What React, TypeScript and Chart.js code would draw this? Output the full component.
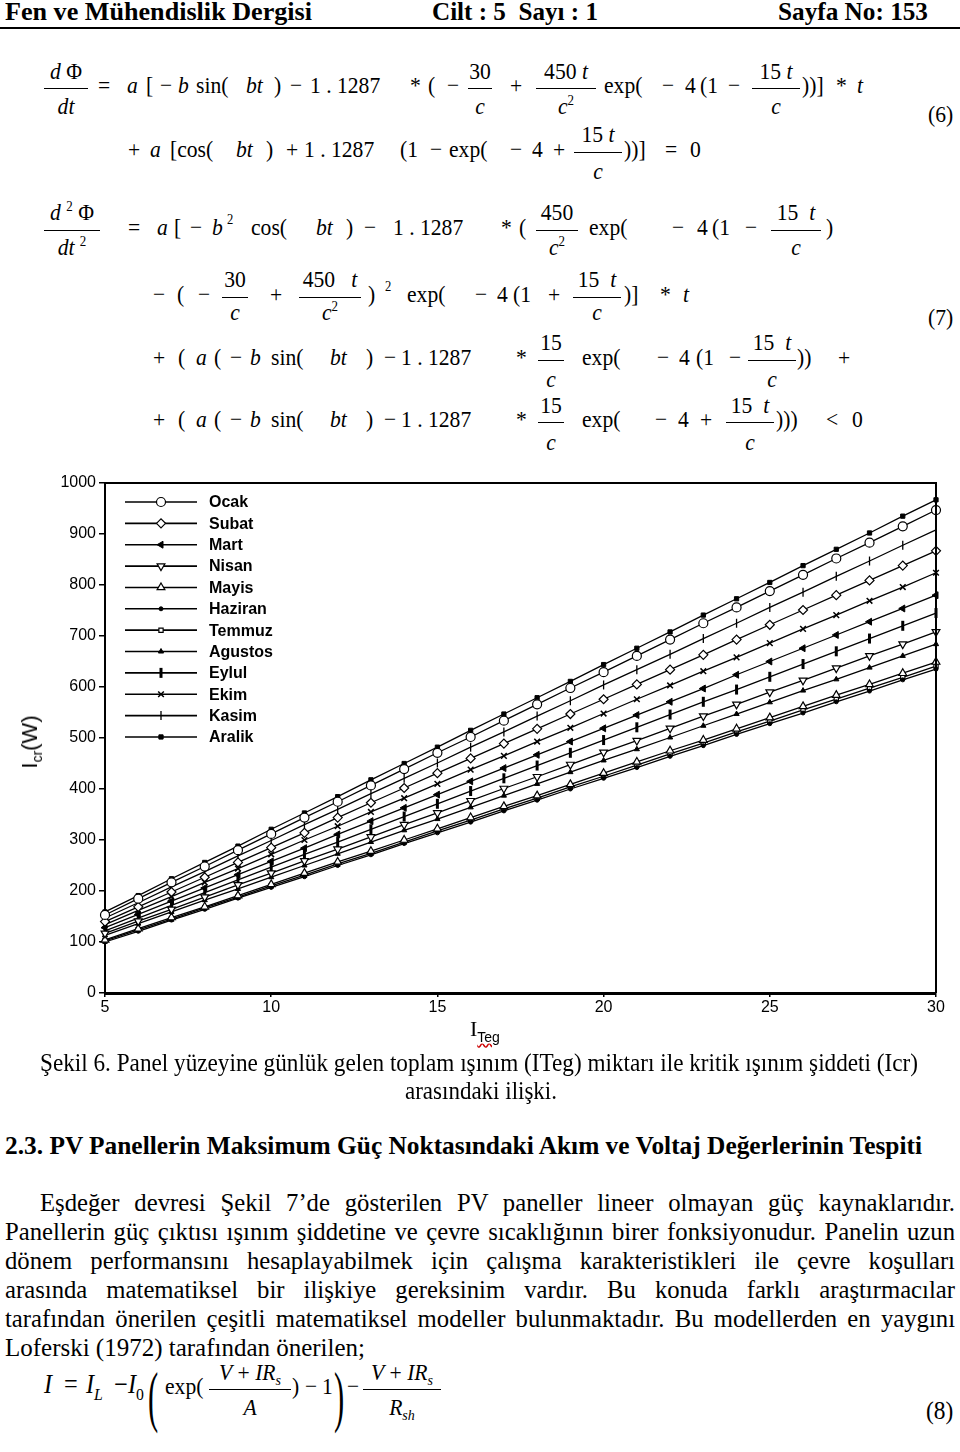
import React, { useEffect, useLayoutEffect, useRef } from 'react';
import { Chart, registerables } from 'chart.js';
import { drawPoint } from 'chart.js/helpers';

Chart.register(...registerables);

// ---------------- DATA ----------------
const ITEG = [5, 6, 7, 8, 9, 10, 11, 12, 13, 14, 15, 16, 17, 18, 19, 20, 21, 22, 23, 24, 25, 26, 27, 28, 29, 30];
const MONTHS = ['Ocak', 'Subat', 'Mart', 'Nisan', 'Mayis', 'Haziran', 'Temmuz', 'Agustos', 'Eylul', 'Ekim', 'Kasim', 'Aralik'];

const OCAK = [153, 185, 217, 248, 280, 312, 344, 375, 407, 439, 471, 502, 534, 566, 598, 629, 661, 693, 725, 756, 788, 820, 852, 883, 915, 947];
const SUBAT = [140, 169, 198, 227, 256, 285, 314, 344, 373, 402, 431, 460, 489, 518, 547, 576, 605, 634, 663, 693, 722, 751, 780, 809, 838, 867];
const MART = [128, 154, 180, 206, 232, 258, 284, 311, 337, 363, 389, 415, 441, 467, 493, 519, 545, 571, 597, 624, 650, 676, 702, 728, 754, 780];
const NISAN = [117, 141, 164, 188, 212, 235, 259, 282, 306, 330, 353, 377, 401, 424, 448, 472, 495, 519, 543, 566, 590, 613, 637, 661, 684, 708];
const MAYIS = [104, 126, 148, 169, 191, 213, 235, 257, 278, 300, 322, 344, 366, 387, 409, 431, 453, 475, 496, 518, 540, 562, 584, 605, 627, 649];
const HAZIRAN = [100, 121, 143, 164, 186, 207, 228, 250, 271, 293, 314, 335, 357, 378, 400, 421, 442, 464, 485, 507, 528, 549, 571, 592, 614, 635];
const TEMMUZ = [102, 124, 145, 167, 188, 210, 231, 253, 274, 296, 318, 339, 361, 382, 404, 425, 447, 469, 490, 512, 533, 555, 576, 598, 619, 641];
const AGUSTOS = [113, 136, 159, 182, 204, 227, 250, 273, 296, 319, 341, 364, 387, 410, 433, 456, 478, 501, 524, 547, 570, 593, 615, 638, 661, 684];
const EYLUL = [122, 147, 172, 197, 222, 247, 272, 296, 321, 346, 371, 396, 421, 446, 471, 496, 521, 546, 571, 595, 620, 645, 670, 695, 720, 745];
const EKIM = [134, 162, 189, 217, 244, 272, 300, 327, 355, 382, 410, 438, 465, 493, 520, 548, 576, 603, 631, 658, 686, 714, 741, 769, 796, 824];
const KASIM = [147, 177, 208, 238, 269, 299, 330, 360, 391, 421, 451, 482, 512, 543, 573, 604, 634, 664, 695, 725, 756, 786, 817, 847, 878, 908];
const ARALIK = [159, 191, 224, 256, 288, 321, 353, 385, 418, 450, 482, 515, 547, 579, 611, 644, 676, 708, 741, 773, 805, 838, 870, 902, 935, 967];

const SERIES = [OCAK, SUBAT, MART, NISAN, MAYIS, HAZIRAN, TEMMUZ, AGUSTOS, EYLUL, EKIM, KASIM, ARALIK];

const Y_MIN = 0;
const Y_MAX = 1000;
const Y_STEP = 100;
const X_MIN = 5;
const X_MAX = 30;
const X_STEP = 5;

// marker styles (presentation only)
const MARKERS: any[] = [
  { style: 'circle', rot: 0, r: 4.5, fill: '#fff', bw: 1.2 },
  { style: 'rectRot', rot: 0, r: 4.5, fill: '#fff', bw: 1.2 },
  { style: 'triangle', rot: -90, r: 4, fill: '#000', bw: 1 },
  { style: 'triangle', rot: 180, r: 4.5, fill: '#fff', bw: 1.2 },
  { style: 'triangle', rot: 0, r: 4.5, fill: '#fff', bw: 1.2 },
  { style: 'circle', rot: 0, r: 2, fill: '#000', bw: 1 },
  { style: 'rect', rot: 0, r: 3, fill: '#fff', bw: 1.2 },
  { style: 'triangle', rot: 0, r: 3, fill: '#000', bw: 1 },
  { style: 'line', rot: 90, r: 5, fill: '#000', bw: 3 },
  { style: 'crossRot', rot: 0, r: 4, fill: '#000', bw: 1.5 },
  { style: 'line', rot: 90, r: 4.5, fill: '#000', bw: 1.3 },
  { style: 'rect', rot: 0, r: 3, fill: '#000', bw: 1 },
];

const SERIF = '"Liberation Serif", "Times New Roman", serif';
const SANS = '"Liberation Sans", Arial, sans-serif';

// ---------------- text helpers ----------------
function Line(props: { x: number; b: number; w?: number; size?: number; bold?: boolean; justify?: boolean; sx?: number; children: any }) {
  const { x, b, w, size = 26, bold = false, justify = false, sx = 0.95, children } = props;
  const ref = useRef<HTMLSpanElement>(null);
  useLayoutEffect(() => {
    const el = ref.current;
    if (!el || !w) return;
    el.style.transform = 'none';
    el.style.wordSpacing = '0px';
    const nat = el.getBoundingClientRect().width;
    const spaces = ((el.textContent || '').match(/ /g) || []).length;
    if (justify && nat * sx < w && spaces > 0) {
      el.style.wordSpacing = `${(w / sx - nat) / spaces}px`;
      el.style.transform = `scaleX(${sx})`;
    } else if (nat > 0) {
      el.style.transform = `scaleX(${w / nat})`;
    }
  }, [w, justify, sx]);
  return (
    <span
      ref={ref}
      style={{
        position: 'absolute',
        left: x,
        top: b - 0.8375 * size,
        fontSize: size,
        lineHeight: `${size}px`,
        fontFamily: SERIF,
        fontWeight: bold ? 'bold' : 'normal',
        whiteSpace: 'pre',
        transformOrigin: '0 0',
        color: '#000',
      }}
    >
      {children}
    </span>
  );
}

const SZ = 24;
const SX = 0.9;
function T(props: { x: number; b: number; s: any; i?: boolean; sz?: number; sx?: number }) {
  const { x, b, s, i = false, sz = SZ, sx = SX } = props;
  return (
    <span
      style={{
        position: 'absolute',
        left: x,
        top: b - 0.8375 * sz,
        fontSize: sz,
        lineHeight: `${sz}px`,
        fontFamily: SERIF,
        fontStyle: i ? 'italic' : 'normal',
        whiteSpace: 'pre',
        color: '#000',
        transform: `scaleX(${sx})`,
        transformOrigin: '0 0',
      }}
    >
      {s}
    </span>
  );
}

const Sup = ({ c }: { c: any }) => (
  <span style={{ fontSize: '0.6em', position: 'relative', top: '-0.6em', fontStyle: 'normal' }}>{c}</span>
);
const Sub = ({ c, i = false }: { c: any; i?: boolean }) => (
  <span style={{ fontSize: '0.65em', position: 'relative', top: '0.35em', fontStyle: i ? 'italic' : 'normal' }}>{c}</span>
);
const I = ({ c }: { c: any }) => <span style={{ fontStyle: 'italic' }}>{c}</span>;

function Frac(props: { cx: number; w: number; bar: number; nb: number; db: number; num: any; den: any; sz?: number }) {
  const { cx, w, bar, nb, db, num, den, sz = SZ } = props;
  const box = (b: number, c: any) => (
    <div
      style={{
        position: 'absolute',
        left: cx - 100,
        width: 200,
        textAlign: 'center',
        top: b - 0.8375 * sz,
        fontSize: sz,
        lineHeight: `${sz}px`,
        fontFamily: SERIF,
        whiteSpace: 'pre',
        color: '#000',
        transform: `scaleX(${SX})`,
        transformOrigin: '50% 0',
      }}
    >
      {c}
    </div>
  );
  return (
    <>
      {box(nb, num)}
      <div style={{ position: 'absolute', left: cx - w / 2, top: bar, width: w, height: 0, borderTop: '1.3px solid #000' }} />
      {box(db, den)}
    </>
  );
}

const F15t = <>15 <I c="t" /></>;
const Fc = <I c="c" />;
const Fc2 = <><I c="c" /><Sup c="2" /></>;

// ---------------- chart ----------------
const frameAndLegend = {
  id: 'frameAndLegend',
  afterDatasetsDraw(chart: any) {
    const ctx = chart.ctx as CanvasRenderingContext2D;
    const a = chart.chartArea;
    ctx.save();
    ctx.strokeStyle = '#000';
    ctx.lineWidth = 2;
    ctx.beginPath();
    ctx.moveTo(a.left, a.top);
    ctx.lineTo(a.right, a.top);
    ctx.lineTo(a.right, a.bottom);
    ctx.stroke();
    chart.data.datasets.forEach((ds: any, i: number) => {
      const y = a.top + 19 + i * 21.36;
      ctx.strokeStyle = '#000';
      ctx.lineWidth = 1.6;
      ctx.beginPath();
      ctx.moveTo(a.left + 20, y);
      ctx.lineTo(a.left + 92, y);
      ctx.stroke();
      ctx.fillStyle = ds.pointBackgroundColor;
      ctx.lineWidth = ds.pointBorderWidth;
      drawPoint(
        ctx,
        { pointStyle: ds.pointStyle, rotation: ds.pointRotation, radius: ds.pointRadius, borderWidth: ds.pointBorderWidth } as any,
        a.left + 56,
        y
      );
      ctx.fillStyle = '#000';
      ctx.font = `bold 16px ${SANS}`;
      ctx.textBaseline = 'middle';
      ctx.textAlign = 'left';
      ctx.fillText(ds.label, a.left + 104, y + 1);
    });
    ctx.restore();
  },
};

function ChartBox() {
  const ref = useRef<HTMLCanvasElement>(null);
  useEffect(() => {
    if (!ref.current) return;
    const datasets = MONTHS.map((m, k) => ({
      label: m,
      data: ITEG.map((x, j) => ({ x, y: SERIES[k][j] })),
      borderColor: '#000',
      borderWidth: 1.3,
      pointStyle: MARKERS[k].style,
      pointRotation: MARKERS[k].rot,
      pointRadius: MARKERS[k].r,
      pointBackgroundColor: MARKERS[k].fill,
      pointBorderColor: '#000',
      pointBorderWidth: MARKERS[k].bw,
      clip: false as any,
      tension: 0,
    }));
    const chart = new Chart(ref.current, {
      type: 'line',
      data: { datasets } as any,
      options: {
        animation: false,
        responsive: false,
        layout: { padding: { top: 13, right: 24, left: 0, bottom: 0 } },
        plugins: { legend: { display: false }, tooltip: { enabled: false } },
        scales: {
          x: {
            type: 'linear',
            min: X_MIN,
            max: X_MAX,
            afterFit: (s: any) => { s.height = 57; },
            ticks: { stepSize: X_STEP, color: '#000', font: { family: SANS, size: 16 }, padding: 1, maxRotation: 0, callback: (v: any) => String(v) },
            grid: { display: true, drawOnChartArea: false, drawTicks: true, tickLength: 4, color: '#000', lineWidth: 1.5 },
            border: { display: true, color: '#000', width: 3 },
          },
          y: {
            type: 'linear',
            min: Y_MIN,
            max: Y_MAX,
            afterFit: (s: any) => { s.width = 105; },
            ticks: { stepSize: Y_STEP, color: '#000', font: { family: SANS, size: 16 }, padding: 3, callback: (v: any) => String(v) },
            grid: { display: true, drawOnChartArea: false, drawTicks: true, tickLength: 6, color: '#000', lineWidth: 1.5 },
            border: { display: true, color: '#000', width: 2 },
          },
        },
      } as any,
      plugins: [frameAndLegend],
    });
    return () => chart.destroy();
  }, []);
  return (
    <div style={{ position: 'absolute', left: 0, top: 470, width: 960, height: 580 }}>
      <canvas ref={ref} width={960} height={580} style={{ display: 'block' }} />
    </div>
  );
}

// ---------------- page ----------------
export default function App() {
  return (
    <div style={{ position: 'absolute', left: 0, top: 0, width: 960, height: 1452, background: '#fff', overflow: 'hidden' }}>
      {/* header */}
      <Line x={5} b={21} w={307} size={26} bold>Fen ve Mühendislik Dergisi</Line>
      <Line x={432} b={21} w={166} size={26} bold>{'Cilt : 5  Sayı : 1'}</Line>
      <Line x={778} b={21} w={150} size={26} bold>Sayfa No: 153</Line>
      <div style={{ position: 'absolute', left: 0, top: 27, width: 960, height: 2, background: '#000' }} />

      {/* Equation 6 */}
      <Frac cx={66} w={44} bar={88} nb={79} db={114} num={<><I c="d" /> Φ</>} den={<I c="dt" />} />
      <T x={98} b={93} s="=" />
      <T x={127} b={93} s="a" i />
      <T x={146} b={93} s="[" />
      <T x={160} b={93} s="−" />
      <T x={178} b={93} s="b" i />
      <T x={196} b={93} s="sin(" />
      <T x={246} b={93} s="bt" i />
      <T x={274} b={93} s=")" />
      <T x={290} b={93} s="−" />
      <T x={310} b={93} s="1 . 1287" />
      <T x={410} b={93} s="*" />
      <T x={428} b={93} s="(" />
      <T x={447} b={93} s="−" />
      <Frac cx={480} w={24} bar={88} nb={79} db={114} num="30" den={Fc} />
      <T x={510} b={93} s="+" />
      <Frac cx={566} w={60} bar={88} nb={79} db={114} num={<>450 <I c="t" /></>} den={Fc2} />
      <T x={604} b={93} s="exp(" />
      <T x={662} b={93} s="−" />
      <T x={685} b={93} s="4" />
      <T x={700} b={93} s="(1" />
      <T x={728} b={93} s="−" />
      <Frac cx={776} w={48} bar={88} nb={79} db={114} num={F15t} den={Fc} />
      <T x={802} b={93} s="))]" />
      <T x={836} b={93} s="*" />
      <T x={857} b={93} s="t" i />

      <T x={128} b={157} s="+" />
      <T x={150} b={157} s="a" i />
      <T x={170} b={157} s="[cos(" />
      <T x={236} b={157} s="bt" i />
      <T x={266} b={157} s=")" />
      <T x={286} b={157} s="+" />
      <T x={304} b={157} s="1 . 1287" />
      <T x={400} b={157} s="(1" />
      <T x={430} b={157} s="−" />
      <T x={449} b={157} s="exp(" />
      <T x={510} b={157} s="−" />
      <T x={532} b={157} s="4" />
      <T x={553} b={157} s="+" />
      <Frac cx={598} w={48} bar={152} nb={142} db={179} num={F15t} den={Fc} />
      <T x={624} b={157} s="))]" />
      <T x={665} b={157} s="=" />
      <T x={690} b={157} s="0" />
      <T x={928} b={122} s="(6)" />

      {/* Equation 7 */}
      <Frac cx={72} w={56} bar={230} nb={220} db={255} num={<><I c="d" /> <Sup c="2" /> Φ</>} den={<><I c="dt" /> <Sup c="2" /></>} />
      <T x={128} b={235} s="=" />
      <T x={157} b={235} s="a" i />
      <T x={174} b={235} s="[" />
      <T x={190} b={235} s="−" />
      <T x={212} b={235} s="b" i />
      <T x={227} b={225} s="2" sz={14} />
      <T x={251} b={235} s="cos(" />
      <T x={316} b={235} s="bt" i />
      <T x={346} b={235} s=")" />
      <T x={364} b={235} s="−" />
      <T x={393} b={235} s="1 . 1287" />
      <T x={501} b={235} s="*" />
      <T x={519} b={235} s="(" />
      <Frac cx={557} w={42} bar={230} nb={220} db={255} num="450" den={Fc2} />
      <T x={589} b={235} s="exp(" />
      <T x={672} b={235} s="−" />
      <T x={697} b={235} s="4" />
      <T x={712} b={235} s="(1" />
      <T x={745} b={235} s="−" />
      <Frac cx={796} w={50} bar={230} nb={220} db={255} num={<>15  <I c="t" /></>} den={Fc} />
      <T x={826} b={235} s=")" />

      <T x={153} b={302} s="−" />
      <T x={177} b={302} s="(" />
      <T x={198} b={302} s="−" />
      <Frac cx={235} w={26} bar={297} nb={287} db={320} num="30" den={Fc} />
      <T x={270} b={302} s="+" />
      <Frac cx={330} w={62} bar={297} nb={287} db={320} num={<>450   <I c="t" /></>} den={Fc2} />
      <T x={368} b={302} s=")" />
      <T x={385} b={292} s="2" sz={14} />
      <T x={407} b={302} s="exp(" />
      <T x={475} b={302} s="−" />
      <T x={497} b={302} s="4" />
      <T x={513} b={302} s="(1" />
      <T x={548} b={302} s="+" />
      <Frac cx={597} w={48} bar={297} nb={287} db={320} num={<>15  <I c="t" /></>} den={Fc} />
      <T x={624} b={302} s=")]" />
      <T x={660} b={302} s="*" />
      <T x={683} b={302} s="t" i />
      <T x={928} b={325} s="(7)" />

      <T x={153} b={365} s="+" />
      <T x={178} b={365} s="(" />
      <T x={196} b={365} s="a" i />
      <T x={214} b={365} s="(" />
      <T x={230} b={365} s="−" />
      <T x={250} b={365} s="b" i />
      <T x={271} b={365} s="sin(" />
      <T x={330} b={365} s="bt" i />
      <T x={366} b={365} s=")" />
      <T x={384} b={365} s="−" />
      <T x={401} b={365} s="1 . 1287" />
      <T x={516} b={365} s="*" />
      <Frac cx={551} w={26} bar={360} nb={350} db={387} num="15" den={Fc} />
      <T x={582} b={365} s="exp(" />
      <T x={657} b={365} s="−" />
      <T x={679} b={365} s="4" />
      <T x={696} b={365} s="(1" />
      <T x={729} b={365} s="−" />
      <Frac cx={772} w={48} bar={360} nb={350} db={387} num={<>15  <I c="t" /></>} den={Fc} />
      <T x={797} b={365} s="))" />
      <T x={838} b={365} s="+" />

      <T x={153} b={427} s="+" />
      <T x={178} b={427} s="(" />
      <T x={196} b={427} s="a" i />
      <T x={214} b={427} s="(" />
      <T x={230} b={427} s="−" />
      <T x={250} b={427} s="b" i />
      <T x={271} b={427} s="sin(" />
      <T x={330} b={427} s="bt" i />
      <T x={366} b={427} s=")" />
      <T x={384} b={427} s="−" />
      <T x={401} b={427} s="1 . 1287" />
      <T x={516} b={427} s="*" />
      <Frac cx={551} w={26} bar={422} nb={413} db={450} num="15" den={Fc} />
      <T x={582} b={427} s="exp(" />
      <T x={655} b={427} s="−" />
      <T x={678} b={427} s="4" />
      <T x={700} b={427} s="+" />
      <Frac cx={750} w={48} bar={422} nb={413} db={450} num={<>15  <I c="t" /></>} den={Fc} />
      <T x={776} b={427} s=")))" />
      <T x={826} b={427} s="<" />
      <T x={852} b={427} s="0" />

      {/* chart */}
      <ChartBox />
      <div
        style={{
          position: 'absolute',
          left: 30,
          top: 742,
          transform: 'translate(-50%, -50%) rotate(-90deg)',
          fontFamily: SANS,
          fontSize: 22,
          whiteSpace: 'nowrap',
          color: '#000',
        }}
      >
        I<span style={{ fontSize: 14, position: 'relative', top: 5 }}>cr</span>(W)
      </div>
      <div style={{ position: 'absolute', left: 470, top: 1018, fontFamily: SERIF, fontSize: 22, lineHeight: '22px', whiteSpace: 'nowrap', color: '#000' }}>
        I
        <span style={{ fontFamily: SANS, fontSize: 14, position: 'relative', top: 6, textDecoration: 'underline wavy #c00' }}>Teg</span>
      </div>

      {/* caption */}
      <Line x={40} b={1072} w={878}>Şekil 6. Panel yüzeyine günlük gelen toplam ışınım (ITeg) miktarı ile kritik ışınım şiddeti (Icr)</Line>
      <Line x={405} b={1100} w={152}>arasındaki ilişki.</Line>

      {/* heading */}
      <Line x={5} b={1155} w={917} bold>2.3. PV Panellerin Maksimum Güç Noktasındaki Akım ve Voltaj Değerlerinin Tespiti</Line>

      {/* paragraph */}
      <Line x={40} b={1212} w={915} justify>Eşdeğer devresi Şekil 7’de gösterilen PV paneller lineer olmayan güç kaynaklarıdır.</Line>
      <Line x={5} b={1241} w={950} justify>Panellerin güç çıktısı ışınım şiddetine ve çevre sıcaklığının birer fonksiyonudur. Panelin uzun</Line>
      <Line x={5} b={1270} w={950} justify>dönem performansını hesaplayabilmek için çalışma karakteristikleri ile çevre koşulları</Line>
      <Line x={5} b={1299} w={950} justify>arasında matematiksel bir ilişkiye gereksinim vardır. Bu konuda farklı araştırmacılar</Line>
      <Line x={5} b={1328} w={950} justify>tarafından önerilen çeşitli matematiksel modeller bulunmaktadır. Bu modellerden en yaygını</Line>
      <Line x={5} b={1357} w={360}>Loferski (1972) tarafından önerilen;</Line>

      {/* Equation 8 */}
      <T x={44} b={1394} s="I" i sz={27} />
      <T x={64} b={1394} s="=" sz={27} />
      <T x={86} b={1394} s={<><I c="I" /><Sub c="L" i /></>} sz={27} />
      <T x={114} b={1394} s="−" sz={27} />
      <T x={128} b={1394} s={<><I c="I" /><Sub c="0" /></>} sz={27} />
      <T x={148} b={1419} s="(" sz={68} sx={0.45} />
      <T x={165} b={1394} s="exp(" />
      <Frac cx={250} w={82} bar={1389} nb={1380} db={1415} num={<><I c="V" /> + <I c="IR" /><Sub c="s" i /></>} den={<I c="A" />} />
      <T x={292} b={1394} s=")" />
      <T x={305} b={1394} s="−" />
      <T x={322} b={1394} s="1" />
      <T x={334} b={1419} s=")" sz={68} sx={0.45} />
      <T x={347} b={1394} s="−" />
      <Frac cx={402} w={78} bar={1389} nb={1380} db={1415} num={<><I c="V" /> + <I c="IR" /><Sub c="s" i /></>} den={<><I c="R" /><Sub c="sh" i /></>} />
      <T x={926} b={1420} s="(8)" sz={26} />
    </div>
  );
}
